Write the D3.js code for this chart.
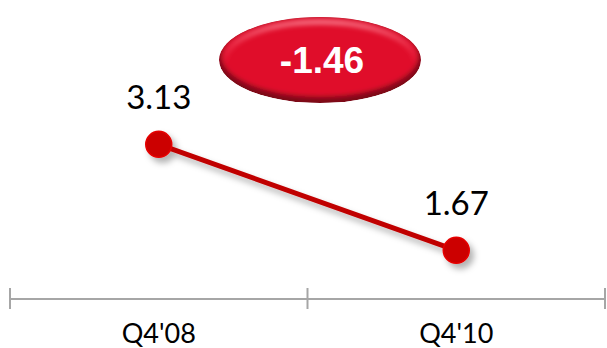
<!DOCTYPE html>
<html>
<head>
<meta charset="utf-8">
<script src="https://cdn.jsdelivr.net/npm/d3@7"></script>
<style>
  html, body { margin: 0; padding: 0; background: #fff; }
  svg { display: block; }
</style>
</head>
<body>
<svg id="chart" width="607" height="348"></svg>
<script>
// Quarter-end values
const categories = ["Q4'08", "Q4'10"];
const values = [3.13, 1.67];

const W = 607, H = 348;
const svg = d3.select("#chart");
const defs = svg.append("defs");

// Soft drop shadow for line and markers
const shadow = defs.append("filter").attr("id", "shadow")
  .attr("x", "-50%").attr("y", "-50%").attr("width", "200%").attr("height", "200%");
shadow.append("feDropShadow")
  .attr("dx", 4).attr("dy", 5).attr("stdDeviation", 3)
  .attr("flood-color", "#000").attr("flood-opacity", 0.3);

// Bevel pieces for the red badge
const soften = defs.append("filter").attr("id", "soften")
  .attr("x", "-20%").attr("y", "-40%").attr("width", "140%").attr("height", "180%");
soften.append("feGaussianBlur").attr("stdDeviation", 2.5);

const rimGrad = defs.append("linearGradient").attr("id", "rimGrad")
  .attr("x1", 0).attr("y1", 0).attr("x2", 0).attr("y2", 1);
rimGrad.append("stop").attr("offset", "0%").attr("stop-color", "#ff9aa8").attr("stop-opacity", 0.9);
rimGrad.append("stop").attr("offset", "35%").attr("stop-color", "#ff6078").attr("stop-opacity", 0.35);
rimGrad.append("stop").attr("offset", "55%").attr("stop-color", "#ff6078").attr("stop-opacity", 0);

const x = d3.scaleBand().domain(categories).range([10, 605]);
const y = d3.scaleLinear().domain([1, 4]).range([299, 81.2]);

// Category axis
const axisG = svg.append("g").attr("transform", "translate(0,299)");
axisG.append("line")
  .attr("x1", x.range()[0]).attr("x2", x.range()[1])
  .attr("stroke", "#a6a6a6").attr("stroke-width", 2);
const tickXs = [x.range()[0]].concat(categories.map(c => x(c) + x.bandwidth()));
axisG.selectAll("line.tick").data(tickXs).join("line")
  .attr("class", "tick")
  .attr("x1", d => d).attr("x2", d => d)
  .attr("y1", -11).attr("y2", 10)
  .attr("stroke", "#a6a6a6").attr("stroke-width", 2);
axisG.selectAll("text").data(categories).join("text")
  .attr("x", d => x(d) + x.bandwidth() / 2)
  .attr("y", 44)
  .attr("text-anchor", "middle")
  .attr("font-family", "Lato, 'Open Sans', sans-serif")
  .attr("font-size", 27)
  .attr("fill", "#000")
  .text(d => d);

const cx = d => x(d) + x.bandwidth() / 2;
const pts = categories.map((c, i) => ({ c, v: values[i] }));

// Line and markers
const plot = svg.append("g").attr("filter", "url(#shadow)");
plot.append("path")
  .datum(pts)
  .attr("d", d3.line().x(d => cx(d.c)).y(d => y(d.v)))
  .attr("fill", "none")
  .attr("stroke", "#c00000")
  .attr("stroke-width", 5);
plot.selectAll("circle").data(pts).join("circle")
  .attr("cx", d => cx(d.c))
  .attr("cy", d => y(d.v))
  .attr("r", 13)
  .attr("fill", "#cc0000")
  .attr("stroke", "#e60000")
  .attr("stroke-width", 1.5);

// Value labels
svg.selectAll("text.val").data(pts).join("text")
  .attr("class", "val")
  .attr("x", d => cx(d.c))
  .attr("y", d => y(d.v) - 35)
  .attr("text-anchor", "middle")
  .attr("font-family", "Lato, 'Open Sans', sans-serif")
  .attr("font-size", 33)
  .attr("fill", "#000")
  .text(d => d.v.toFixed(2));

// Change badge
const delta = values[1] - values[0];
const badge = svg.append("g").attr("transform", "translate(320,60)");
const clip = defs.append("clipPath").attr("id", "badgeClip");
clip.append("ellipse").attr("rx", 101).attr("ry", 43);
const inner = badge.append("g").attr("clip-path", "url(#badgeClip)");
inner.append("ellipse")
  .attr("rx", 101).attr("ry", 43)
  .attr("fill", "#7c0a18");
inner.append("ellipse")
  .attr("cy", -4).attr("rx", 99).attr("ry", 41)
  .attr("fill", "#e00f2b")
  .attr("filter", "url(#soften)");
inner.append("ellipse")
  .attr("cy", 1).attr("rx", 95).attr("ry", 39)
  .attr("fill", "none")
  .attr("stroke", "url(#rimGrad)")
  .attr("stroke-width", 4)
  .attr("filter", "url(#soften)");
badge.append("text")
  .attr("x", 2).attr("y", 13)
  .attr("text-anchor", "middle")
  .attr("font-family", "'Liberation Sans', Arial, sans-serif")
  .attr("font-weight", "bold")
  .attr("font-size", 37)
  .attr("fill", "#fff")
  .text(delta.toFixed(2));
</script>
</body>
</html>
